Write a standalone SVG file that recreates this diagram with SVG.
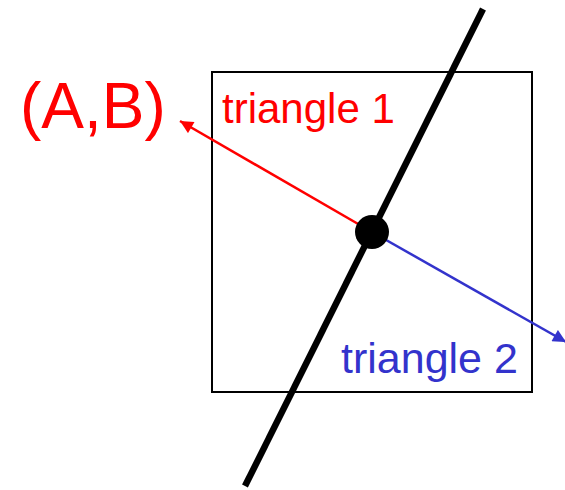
<svg xmlns="http://www.w3.org/2000/svg" width="565" height="490" viewBox="0 0 565 490">
<style>
text{font-family:"Liberation Sans",Arial,sans-serif}
.red{fill:#ff0000}
.blue{fill:#3333cc}
</style>
<defs>
<marker id="ar" viewBox="0 0 10 10" refX="10" refY="5" markerWidth="15" markerHeight="13" markerUnits="userSpaceOnUse" orient="auto"><path d="M0,0 L10,5 L0,10 z" fill="#ff0000"/></marker>
<marker id="ab" viewBox="0 0 10 10" refX="10" refY="5" markerWidth="15" markerHeight="13" markerUnits="userSpaceOnUse" orient="auto"><path d="M0,0 L10,5 L0,10 z" fill="#3333cc"/></marker>
</defs>
<rect width="565" height="490" fill="#fff"/>
<g id="square"><rect x="212" y="72" width="320" height="320" fill="none" stroke="#000" stroke-width="2"/></g>
<g id="line"><line x1="483" y1="9" x2="245" y2="486" stroke="#000" stroke-width="6.5"/></g>
<g id="connectors">
<line x1="372" y1="232" x2="180" y2="121" stroke="#ff0000" stroke-width="2.5" marker-end="url(#ar)"/>
<line x1="372" y1="232" x2="566" y2="342" stroke="#3333cc" stroke-width="2.5" marker-end="url(#ab)"/>
</g>
<g id="point"><circle cx="372" cy="232" r="17" fill="#000"/></g>
<g id="labels">
<text x="20" y="128" font-size="64" class="red">(A,B)</text>
<text x="222" y="123" font-size="42" class="red">triangle 1</text>
<text x="341" y="373" font-size="43" class="blue">triangle 2</text>
</g>
</svg>
